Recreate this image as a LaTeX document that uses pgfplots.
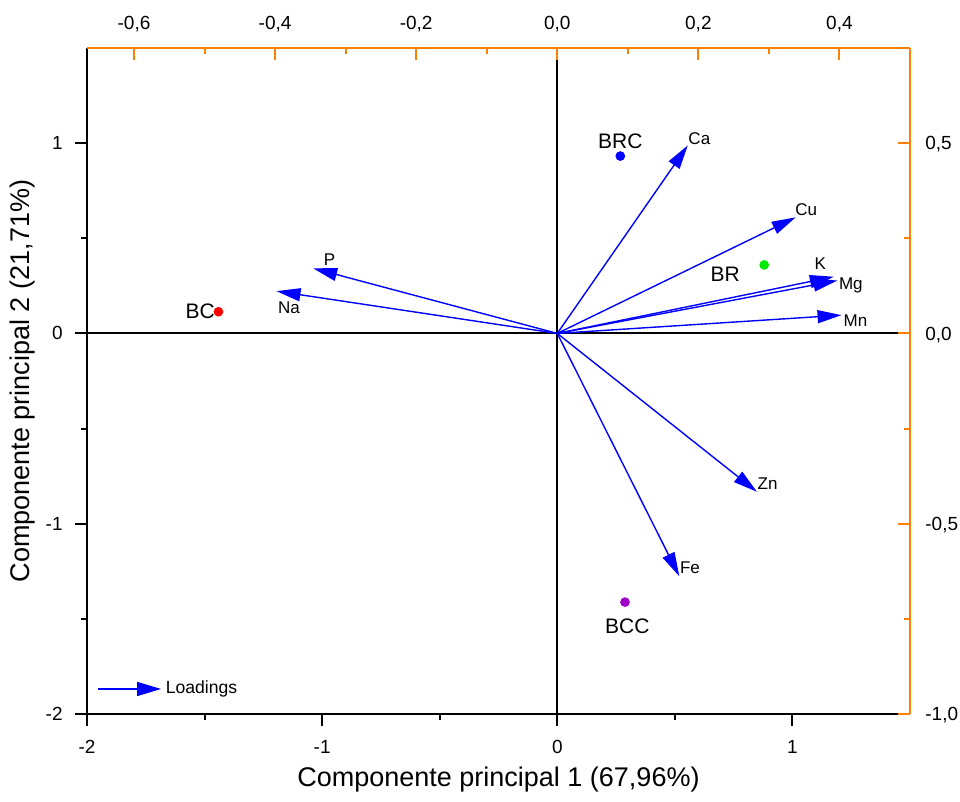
\documentclass[border=0pt]{standalone}
\usepackage{fontspec}
\setmainfont{Liberation Sans}
\usepackage{pgfplots}
\pgfplotsset{compat=1.18}
\usetikzlibrary{arrows.meta}
\definecolor{orgax}{RGB}{255,128,0}
\definecolor{vecblue}{RGB}{0,0,255}
\definecolor{ptgreen}{RGB}{0,235,0}
\definecolor{ptred}{RGB}{255,0,0}
\definecolor{ptpurple}{RGB}{160,0,200}
\tikzset{
  arr/.style={vecblue, line width=0.7pt, mark=none, -{Triangle[length=12pt,width=6.5pt]}},
  lbl/.style={font=\fontsize{8.5}{10}\selectfont, inner sep=0pt, text=black, anchor=base west},
  slbl/.style={font=\fontsize{10.5}{12}\selectfont, inner sep=0pt, text=black},
}
\begin{document}
\begin{tikzpicture}
\path[use as bounding box] (-43.5pt,-44pt) rectangle (436.5pt,357pt);
% ---------------- scores axis (bottom / left) ----------------
\begin{axis}[
  at={(0,0)}, anchor=south west, scale only axis,
  width=411.5pt, height=333pt,
  xmin=-2, xmax=1.5, ymin=-2, ymax=1.5,
  axis x line*=bottom, axis y line*=left,
  axis line style={black, line width=1pt},
  xtick={-2,-1,0,1}, ytick={-2,-1,0,1},
  minor xtick={-1.5,-0.5,0.5}, minor ytick={-1.5,-0.5,0.5},
  tick align=outside,
  major tick length=6pt, minor tick length=3pt,
  every tick/.style={black, line width=1pt},
  /pgf/number format/assume math mode=true,
  tick label style={font=\fontsize{9.5}{11}\selectfont, inner sep=0pt},
  xticklabel style={anchor=base, yshift=-13.9pt},
  yticklabel style={anchor=east, xshift=-6pt},
  xlabel={Componente principal 1 (67,96\%)},
  ylabel={Componente principal 2 (21,71\%)},
  xlabel style={at={(rel axis cs:0.5,0)}, anchor=base, yshift=-36.5pt, font=\fontsize{13.5}{16}\selectfont},
  ylabel style={at={(rel axis cs:-0.0784,0.5)}, anchor=center, font=\fontsize{13.5}{16}\selectfont},
  clip=false,
]
\addplot[black, line width=1pt, mark=none] coordinates {(-2,0) (1.5,0)};
\addplot[black, line width=1pt, mark=none] coordinates {(0,-2) (0,1.5)};
% scores
\addplot[only marks, mark=*, mark size=2.2pt, color=vecblue] coordinates {(0.268,0.932)};
\addplot[only marks, mark=*, mark size=2.2pt, color=ptgreen] coordinates {(0.880,0.360)};
\addplot[only marks, mark=*, mark size=2.2pt, color=ptred] coordinates {(-1.441,0.114)};
\addplot[only marks, mark=*, mark size=2.2pt, color=ptpurple] coordinates {(0.288,-1.412)};
\node[slbl, anchor=base, yshift=4pt] at (axis cs:0.268,0.932) {BRC};
\node[slbl, anchor=base east, xshift=-12pt, yshift=-8.2pt] at (axis cs:0.880,0.360) {BR};
\node[slbl, anchor=base east, xshift=-1.6pt, yshift=-3.3pt] at (axis cs:-1.441,0.114) {BC};
\node[slbl, anchor=base, xshift=1.2pt, yshift=-15.5pt] at (axis cs:0.288,-1.412) {BCC};
\end{axis}
% ---------------- loadings axis (top / right) ----------------
\begin{axis}[
  at={(0,0)}, anchor=south west, scale only axis,
  width=411.5pt, height=333pt,
  xmin=-0.6666667, xmax=0.5, ymin=-1, ymax=0.75,
  axis x line*=top, axis y line*=right,
  axis line style={orgax, line width=1pt},
  xtick={-0.6,-0.4,-0.2,0,0.2,0.4}, minor xtick={-0.5,-0.3,-0.1,0.1,0.3},
  ytick={-1,-0.5,0,0.5}, minor ytick={-0.75,-0.25,0.25},
  tick align=inside,
  major tick length=6pt, minor tick length=3pt,
  every tick/.style={orgax, line width=1pt},
  /pgf/number format/assume math mode=true,
  tick label style={font=\fontsize{9.5}{11}\selectfont, inner sep=0pt,
    /pgf/number format/fixed, /pgf/number format/fixed zerofill,
    /pgf/number format/precision=1, /pgf/number format/use comma},
  xticklabel style={anchor=base, yshift=9pt},
  yticklabel style={anchor=base west, xshift=7.5pt, yshift=-3.4pt},
  clip=false,
  legend style={at={(rel axis cs:0,0)}, anchor=west, xshift=2pt, yshift=12.5pt,
    draw=none, fill=none, font=\fontsize{8.8}{10}\selectfont},
  legend cell align=left,
]
\addplot[arr, legend image code/.code={\draw[vecblue, line width=0.7pt, -{Triangle[length=12pt,width=7pt]}] (0pt,0pt) -- (31.5pt,0pt);}]
  coordinates {(0,0) (0.185,0.494)} node[pos=1, lbl, yshift=0.5pt] {Ca};
\addlegendentry{Loadings}
\addplot[arr] coordinates {(0,0) (0.338,0.305)} node[pos=1, lbl, xshift=-0.5pt, yshift=0.7pt] {Cu};
\addplot[arr] coordinates {(0,0) (0.392,0.149)} node[pos=1, lbl, xshift=-10pt, yshift=3.5pt] {K};
\addplot[arr] coordinates {(0,0) (0.397,0.139)} node[pos=1, lbl, xshift=0.5pt, yshift=-4.3pt] {Mg};
\addplot[arr] coordinates {(0,0) (0.403,0.048)} node[pos=1, lbl, xshift=0.7pt, yshift=-5.5pt] {Mn};
\addplot[arr] coordinates {(0,0) (-0.346,0.171)} node[pos=1, lbl, xshift=5pt, yshift=1.5pt] {P};
\addplot[arr] coordinates {(0,0) (-0.398,0.111)} node[pos=1, lbl, xshift=0.5pt, yshift=-11pt] {Na};
\addplot[arr] coordinates {(0,0) (0.283,-0.416)} node[pos=1, lbl, yshift=1pt] {Zn};
\addplot[arr] coordinates {(0,0) (0.173,-0.638)} node[pos=1, lbl, yshift=1.5pt] {Fe};
\end{axis}
\end{tikzpicture}
\end{document}
